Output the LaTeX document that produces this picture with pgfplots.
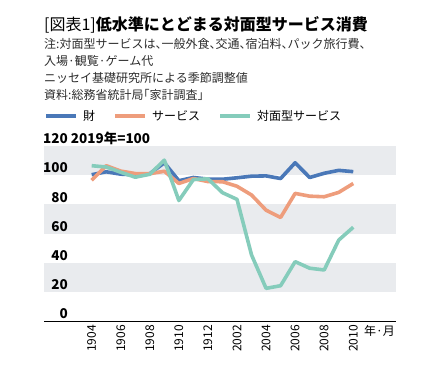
\documentclass[border=0pt]{standalone}
\usepackage{fontspec}
\setmainfont{Noto Sans CJK JP}
\newfontfamily\notefont[RawFeature=+halt]{Noto Sans CJK JP}
\usepackage{pgfplots}
\pgfplotsset{compat=1.18}
\definecolor{cBlue}{RGB}{74,120,184}
\definecolor{cOrange}{RGB}{238,157,124}
\definecolor{cTeal}{RGB}{133,204,187}
\definecolor{cBand}{RGB}{233,235,238}
\definecolor{cNote}{RGB}{45,45,45}

\pgfplotstableread{
i goods services face
0 100.3 96.5 106.5
1 102.3 106.5 105.6
2 100.7 102.8 102.0
3 100.2 101.1 98.6
4 101.0 101.0 100.6
5 108.5 102.7 110.3
6 96.2 94.3 82.6
7 98.4 97.7 97.0
8 97.3 95.6 97.5
9 97.2 95.5 88.0
10 98.2 92.4 83.4
11 99.3 86.4 45.3
12 99.5 76.0 22.4
13 97.7 71.0 24.2
14 108.5 87.5 40.7
15 98.4 85.6 36.2
16 101.3 85.2 35.0
17 103.3 88.2 55.5
18 102.4 94.3 64.3
}\datatable

\begin{document}
\begin{tikzpicture}
\path (0,0) rectangle (442bp,-372bp);
\node[anchor=west, inner sep=0pt, font=\fontsize{16bp}{18bp}\selectfont] at (44bp,-25bp) {[図表1]\textbf{低水準にとどまる対面型サービス消費}};
\begin{scope}[every node/.style={anchor=west, inner sep=0pt, text=cNote, font=\notefont\fontsize{12bp}{14bp}\selectfont}]
\node at (44bp,-44bp) {注:対面型サービスは、一般外食、交通、宿泊料、パック旅行費、};
\node at (44bp,-61bp) {入場·観覧·ゲーム代};
\node at (44bp,-78bp) {ニッセイ基礎研究所による季節調整値};
\node at (44bp,-95bp) {資料:総務省統計局「家計調査」};
\end{scope}
\node[anchor=west, inner sep=0pt, font=\fontsize{12bp}{14bp}\selectfont] at (364bp,-331bp) {年·月};
\begin{axis}[
  set layers,
  at={(44bp,-321bp)}, anchor=south west,
  scale only axis, width=352bp, height=175bp,
  xmin=-3.28, xmax=20.94, ymin=0, ymax=120,
  clip=false,
  axis x line*=bottom, axis y line*=left,
  x axis line style={-, black, line width=0.9bp},
  y axis line style={draw=none},
  major tick length=0pt,
  xtick={0,2,...,18},
  xticklabels={1904,1906,1908,1910,1912,2002,2004,2006,2008,2010},
  xticklabel style={rotate=90, anchor=east, inner sep=0pt, font=\fontsize{12bp}{14bp}\selectfont},
  xticklabel shift=4bp,
  ytick={0,20,...,120},
  yticklabels={0,20,40,60,80,100,{120\rlap{ 2019年=100}}},
  yticklabel style={anchor=base east, inner sep=0pt, xshift=24bp, yshift=2.3bp, font=\bfseries\fontsize{13.5bp}{15bp}\selectfont},
  legend columns=3,
  legend style={at={(axis description cs:0,1)}, anchor=west, yshift=30bp, draw=none, fill=none, inner sep=0pt,
    font=\fontsize{12bp}{14bp}\selectfont, nodes={inner sep=0pt},
    /tikz/every odd column/.append style={column sep=5bp},
    /tikz/every even column/.append style={column sep=18bp}},
  legend image code/.code={\draw[#1, line width=4bp] (0bp,0bp) -- (30bp,0bp);},
  every axis plot/.append style={line width=3.6bp, line join=round, no markers},
]
\begin{pgfonlayer}{axis background}
\fill[cBand] (axis cs:-3.28,100) rectangle (axis cs:20.94,120);
\fill[cBand] (axis cs:-3.28,60) rectangle (axis cs:20.94,80);
\fill[cBand] (axis cs:-3.28,20) rectangle (axis cs:20.94,40);
\end{pgfonlayer}
\addplot[cBlue] table[x=i, y=goods] {\datatable};
\addlegendentry{財}
\addplot[cOrange] table[x=i, y=services] {\datatable};
\addlegendentry{サービス}
\addplot[cTeal] table[x=i, y=face] {\datatable};
\addlegendentry{対面型サービス}
\end{axis}
\end{tikzpicture}
\end{document}
